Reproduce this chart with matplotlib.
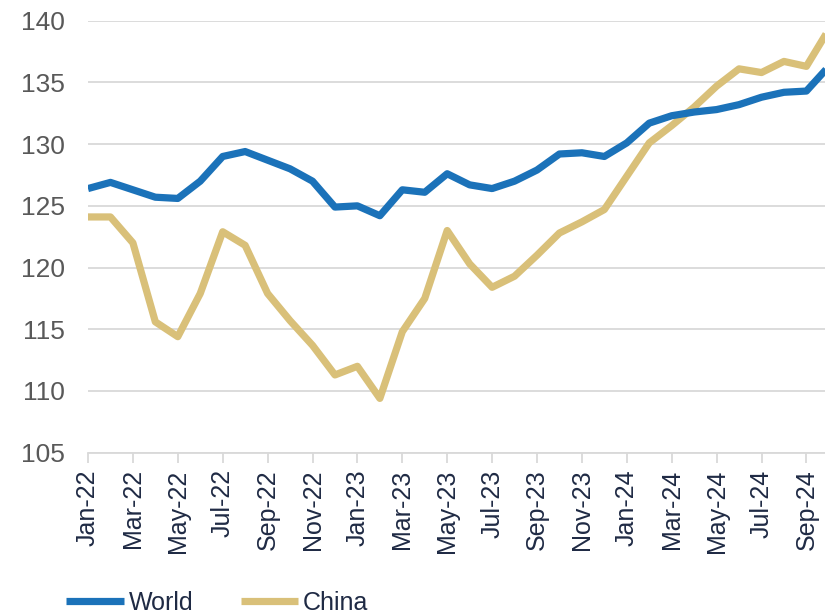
import matplotlib
matplotlib.use("Agg")
import matplotlib.pyplot as plt
import numpy as np

# monthly index, Jan-22 .. Oct-24
months = ["Jan-22", "Feb-22", "Mar-22", "Apr-22", "May-22", "Jun-22", "Jul-22", "Aug-22",
          "Sep-22", "Oct-22", "Nov-22", "Dec-22", "Jan-23", "Feb-23", "Mar-23", "Apr-23",
          "May-23", "Jun-23", "Jul-23", "Aug-23", "Sep-23", "Oct-23", "Nov-23", "Dec-23",
          "Jan-24", "Feb-24", "Mar-24", "Apr-24", "May-24", "Jun-24", "Jul-24", "Aug-24",
          "Sep-24", "Oct-24"]

world = [126.4, 126.9, 126.3, 125.7, 125.6, 127.0, 129.0, 129.4, 128.7, 128.0, 127.0, 124.9,
         125.0, 124.2, 126.3, 126.1, 127.6, 126.7, 126.4, 127.0, 127.9, 129.2, 129.3, 129.0,
         130.1, 131.7, 132.3, 132.6, 132.8, 133.2, 133.8, 134.2, 134.3, 136.3]

china = [124.1, 124.1, 122.0, 115.6, 114.4, 117.9, 122.9, 121.8, 117.9, 115.7, 113.7, 111.3,
         112.0, 109.4, 114.8, 117.5, 123.0, 120.3, 118.4, 119.3, 121.0, 122.8, 123.7, 124.7,
         127.4, 130.1, 131.5, 133.0, 134.7, 136.1, 135.8, 136.7, 136.3, 139.3]

yticks = [105, 110, 115, 120, 125, 130, 135, 140]

BLUE = "#1b72b9"
GOLD = "#d9c079"
NAVY = "#1f2a44"
GREY = "#595959"

plt.rcParams["font.family"] = ["Liberation Sans", "DejaVu Sans"]

fig = plt.figure(figsize=(8.25, 6.15), dpi=100)
ax = fig.add_axes([88 / 825, 1 - 452.7 / 615, (825 - 88) / 825, 432 / 615])

x = np.arange(len(months))
ax.plot(x, world, color=BLUE, lw=5.2, solid_joinstyle="round", solid_capstyle="butt",
        label="World", zorder=3)
ax.plot(x, china, color=GOLD, lw=5.2, solid_joinstyle="round", solid_capstyle="butt",
        label="China", zorder=2)

ax.set_ylim(105, 140)
ax.set_yticks(yticks)
ax.set_xlim(0, (825 - 88) / 22.45)
ax.set_xticks(x[::2])
ax.set_xticklabels(months[::2], rotation=90, fontsize=18, color=NAVY)

ax.grid(axis="y", color="#d9d9d9", lw=1.3)
ax.set_axisbelow(True)
for s in ["left", "right", "top"]:
    ax.spines[s].set_visible(False)
ax.spines["bottom"].set_color("#d9d9d9")
ax.spines["bottom"].set_linewidth(1.3)

ax.tick_params(axis="y", length=0, labelsize=19, labelcolor=GREY, pad=16.5)
ax.tick_params(axis="x", length=7, width=1.3, color="#d9d9d9", pad=5)

fig.legend(loc="center left", bbox_to_anchor=(66 / 825, 1 - 603 / 615), ncol=2,
           frameon=False, fontsize=18, labelcolor=NAVY, handlelength=2.3,
           handletextpad=0.2, columnspacing=1.9, borderaxespad=0, borderpad=0)

fig.savefig("out.png", dpi=100)
